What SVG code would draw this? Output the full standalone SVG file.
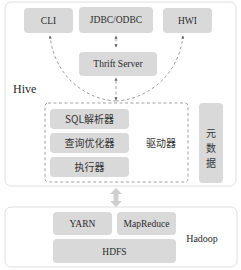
<svg xmlns="http://www.w3.org/2000/svg" width="241" height="270" viewBox="0 0 241 270">
<style>
.box{fill:#d9d9d9;}
.frame{fill:#fff;stroke:#e0e0e0;stroke-width:1;}
.t{font-family:"Liberation Serif","Noto Sans CJK SC",serif;font-size:9.5px;fill:#2a2a2a;text-anchor:middle;}
.c{font-family:"Noto Sans CJK SC","Liberation Sans",sans-serif;font-size:10px;fill:#333;text-anchor:middle;}
.d{fill:none;stroke:#888;stroke-width:0.8;stroke-dasharray:3,2.5;}
</style>
<defs>
<marker id="ah" viewBox="0 0 6 6" refX="5" refY="3" markerWidth="4" markerHeight="4" orient="auto-start-reverse">
<path d="M0,0 L6,3 L0,6 Z" fill="#666"/>
</marker>
</defs>
<rect class="frame" x="5" y="2" width="231" height="184" rx="6"/>
<rect class="frame" x="5" y="207" width="232" height="60" rx="6"/>
<text x="13" y="93" style="font-family:'Liberation Serif',serif;font-size:12px;fill:#2a2a2a;">Hive</text>
<text x="202" y="242" style="font-family:'Liberation Serif',serif;font-size:10px;fill:#2a2a2a;text-anchor:middle;">Hadoop</text>

<g id="cli"><rect class="box" x="24" y="8" width="49" height="25" rx="4"/><text class="t" x="48.5" y="24">CLI</text></g>
<g id="jdbc"><rect class="box" x="79" y="7" width="74" height="26" rx="4"/><text class="t" x="116" y="23">JDBC/ODBC</text></g>
<g id="hwi"><rect class="box" x="163" y="8" width="49" height="25" rx="4"/><text class="t" x="187.5" y="24">HWI</text></g>
<g id="thrift"><rect class="box" x="79" y="52" width="78" height="24" rx="4"/><text class="t" x="118" y="67">Thrift Server</text></g>

<g id="driver"><rect class="d" x="45" y="103" width="143" height="79" rx="3"/><text class="c" x="161" y="147">驱动器</text></g>
<g id="sql"><rect class="box" x="50" y="109" width="79" height="20" rx="4"/><text class="c" x="89.5" y="122.5">SQL解析器</text></g>
<g id="opt"><rect class="box" x="50" y="133" width="79" height="20" rx="4"/><text class="c" x="89.5" y="146.5">查询优化器</text></g>
<g id="exec"><rect class="box" x="50" y="157" width="79" height="20" rx="4"/><text class="c" x="89.5" y="170.5">执行器</text></g>
<g id="meta"><rect class="box" x="199" y="103" width="24" height="80" rx="4"/><text class="c" x="211" y="137">元</text><text class="c" x="211" y="152">数</text><text class="c" x="211" y="167">据</text></g>

<g id="yarn"><rect class="box" x="53" y="212" width="59" height="23" rx="4"/><text class="t" x="82.5" y="227">YARN</text></g>
<g id="mr"><rect class="box" x="117" y="212" width="59" height="23" rx="4"/><text class="t" x="146.5" y="227">MapReduce</text></g>
<g id="hdfs"><rect class="box" x="53" y="239" width="123" height="24" rx="4"/><text class="t" x="114.5" y="255">HDFS</text></g>

<g id="connectors">
<path class="d" d="M116,47 L116,36" marker-start="url(#ah)" marker-end="url(#ah)"/>
<path class="d" d="M116,100 L116,78" marker-start="url(#ah)" marker-end="url(#ah)"/>
<path class="d" d="M116,101 C90,100 55,80 50,36" marker-end="url(#ah)"/>
<path class="d" d="M116,101 C142,100 178,80 183,36" marker-end="url(#ah)"/>
<path d="M116,188 L122,194 L118.5,194 L118.5,201 L122,201 L116,207 L110,201 L113.5,201 L113.5,194 L110,194 Z" fill="#cfcfcf"/>
</g>
</svg>
